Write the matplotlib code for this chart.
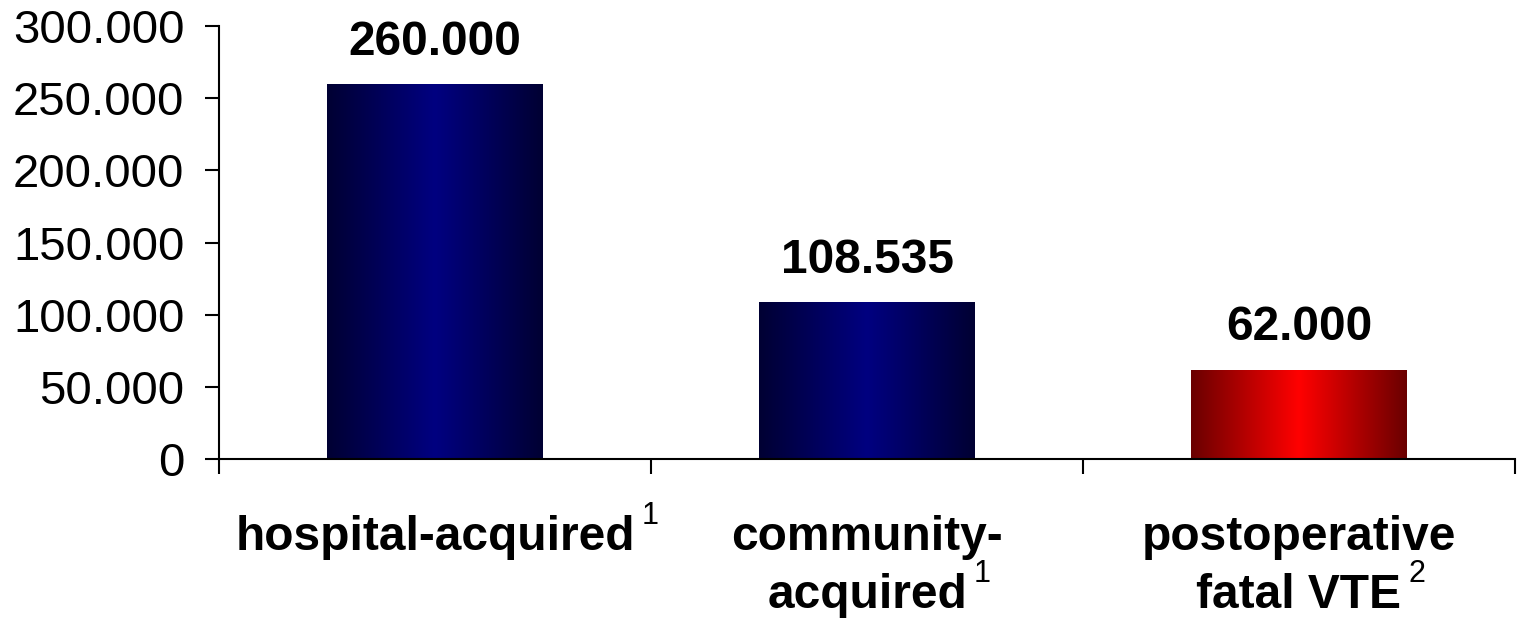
import matplotlib.pyplot as plt
from matplotlib.colors import LinearSegmentedColormap
from matplotlib.ticker import FuncFormatter
import numpy as np

plt.rcParams['font.family'] = ['Liberation Sans', 'DejaVu Sans']

# VTE events per year
values = [260000, 108535, 62000]
value_labels = ['260.000', '108.535', '62.000']
label_lines = [['hospital-acquired'], ['community-', 'acquired'], ['postoperative', 'fatal VTE']]
footnotes = ['1', '1', '2']
edge_colors = ['#000033', '#000033', '#6a0000']
mid_colors = ['#000080', '#000080', '#ff0000']

fig = plt.figure(figsize=(15.18, 6.21), dpi=100)
ax = fig.add_axes([0.1443, 0.2609, 0.8537, 0.6972])

x = np.arange(len(values))
bars = ax.bar(x, values, width=0.5, color='none', edgecolor='none')

# horizontal "cylinder" shading: dark at the sides, bright in the middle
ramp = np.concatenate([np.linspace(0, 1, 128), np.linspace(1, 0, 128)])[None, :]
for bar, c0, c1 in zip(bars, edge_colors, mid_colors):
    cmap = LinearSegmentedColormap.from_list('shade', [c0, c1])
    x0, w, h = bar.get_x(), bar.get_width(), bar.get_height()
    im = ax.imshow(ramp, cmap=cmap, aspect='auto', extent=(x0, x0 + w, 0, h),
                   interpolation='bilinear', zorder=2)
    im.set_clip_path(bar)

for xi, v, lab in zip(x, values, value_labels):
    ax.annotate(lab, (xi, v), xytext=(0, 21), textcoords='offset points',
                ha='center', va='baseline', fontsize=34.5, fontweight='bold')

ax.set_xlim(-0.5, 2.5)
ax.set_ylim(0, 300000)
ax.set_yticks(np.arange(0, 300001, 50000))
ax.yaxis.set_major_formatter(FuncFormatter(lambda v, p: f'{int(v):,}'.replace(',', '.')))
ax.tick_params(axis='y', labelsize=34, length=10, width=1.5, pad=15, direction='out')

ax.set_xticks([-0.5, 0.5, 1.5, 2.5])
ax.set_xticklabels([])
ax.tick_params(axis='x', length=11, width=1.5, direction='out')

for s in ['top', 'right']:
    ax.spines[s].set_visible(False)
for s in ['left', 'bottom']:
    ax.spines[s].set_linewidth(1.5)
    ax.spines[s].set_zorder(3)

# category labels with superscript footnote after the last line
line_y = [-0.210, -0.344]
trans = ax.get_xaxis_transform()
for xi, lines, fn in zip(x, label_lines, footnotes):
    t = None
    for ly, txt in zip(line_y, lines):
        t = ax.text(xi, ly, txt, transform=trans, ha='center', va='baseline',
                    fontsize=34.5, fontweight='bold', clip_on=False)
    ax.annotate(fn, xy=(1, 1), xycoords=t, xytext=(5, 10), textcoords='offset points',
                ha='left', va='top', fontsize=22)

fig.savefig('out.png', dpi=100)
